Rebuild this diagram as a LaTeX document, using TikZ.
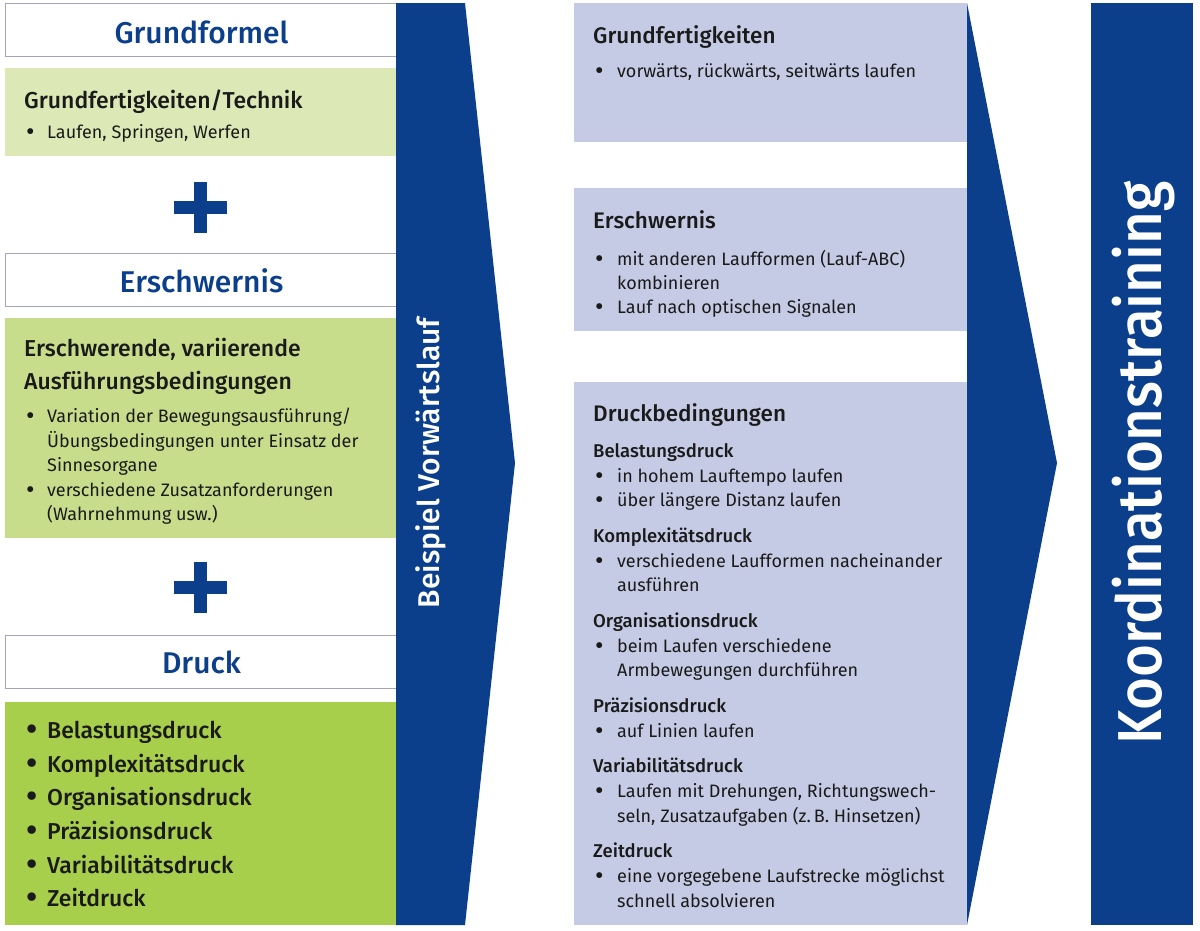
\documentclass[tikz,border=0pt]{standalone}
\usepackage{fontspec}
\setmainfont{Fira Sans}[BoldFont={* Medium}]
\definecolor{dblue}{HTML}{0B3F8C}
\definecolor{lblue}{HTML}{C5CBE5}
\definecolor{gA}{HTML}{DCE9B6}
\definecolor{gB}{HTML}{C8DD8B}
\definecolor{gC}{HTML}{A8CF4B}
\definecolor{hborder}{HTML}{A3A5BF}
\definecolor{txt}{HTML}{1A1A1A}
\newcommand\bdot{\raisebox{-0.12em}{\scalebox{1.45}{•}}}
\newcommand\bulL{\makebox[21pt][l]{\bdot}}
\newcommand\bulR{\makebox[22pt][l]{\bdot}}
\begin{document}
\begin{tikzpicture}[x=1pt,y=-1pt,
  hbox/.style={draw=hborder,line width=1pt,fill=white},
  htitle/.style={anchor=base,text=dblue,inner sep=0pt,font=\fontsize{30}{32}\selectfont\bfseries},
  gtitle/.style={anchor=base west,text=txt,inner sep=0pt,font=\fontsize{23}{26}\selectfont\bfseries},
  btxt/.style={anchor=base west,text=txt,inner sep=0pt,font=\fontsize{18}{20}\selectfont},
  dtxt/.style={anchor=base west,text=txt,inner sep=0pt,font=\fontsize{23}{26}\selectfont\bfseries},
  rtitle/.style={anchor=base west,text=txt,inner sep=0pt,font=\fontsize{22.5}{24}\selectfont\bfseries},
  rsub/.style={anchor=base west,text=txt,inner sep=0pt,font=\fontsize{18.5}{20}\selectfont\bfseries},
  plusbar/.style={fill=dblue}]
\useasboundingbox[fill=white] (0,0) rectangle (1200,930);

% ---------- left column ----------
\draw[hbox] (5,3) rectangle (396,56);
\node[htitle] (t1) at (201.5,43) {Grundformel};
\fill[gA] (5,68) rectangle (396,156);
\node[gtitle] (g1) at (24,108) {Grundfertigkeiten/Technik};
\node[btxt] (g1a) at (26,138) {\bulL Laufen, Springen, Werfen};

\fill[plusbar] (174,201) rectangle (227,214);
\fill[plusbar] (194,182) rectangle (207,233);

\draw[hbox] (5,253) rectangle (396,306);
\node[htitle] (t2) at (201.5,292) {Erschwernis};
\fill[gB] (5,318) rectangle (396,538);
\node[gtitle] (g2) at (24,356) {Erschwerende, variierende};
\node[gtitle] (g2b) at (24,389) {Ausführungsbedingungen};
\node[btxt] (g2c) at (26,422) {\bulL Variation der Bewegungsausführung/};
\node[btxt] (g2d) at (47,447) {Übungsbedingungen unter Einsatz der};
\node[btxt] (g2e) at (47,471) {Sinnesorgane};
\node[btxt] (g2f) at (26,496) {\bulL verschiedene Zusatzanforderungen};
\node[btxt] (g2g) at (47,520) {(Wahrnehmung usw.)};

\fill[plusbar] (174,581) rectangle (227,594);
\fill[plusbar] (194,562) rectangle (207,613);

\draw[hbox] (5,635) rectangle (396,688);
\node[htitle] (t3) at (201.5,673) {Druck};
\fill[gC] (5,702) rectangle (396,925);
\node[dtxt] (d1) at (26,738) {\makebox[21pt][l]{\bdot}Belastungsdruck};
\node[dtxt] (d2) at (26,772) {\makebox[21pt][l]{\bdot}Komplexitätsdruck};
\node[dtxt] (d3) at (26,805) {\makebox[21pt][l]{\bdot}Organisationsdruck};
\node[dtxt] (d4) at (26,839) {\makebox[21pt][l]{\bdot}Präzisionsdruck};
\node[dtxt] (d5) at (26,873) {\makebox[21pt][l]{\bdot}Variabilitätsdruck};
\node[dtxt] (d6) at (26,906) {\makebox[21pt][l]{\bdot}Zeitdruck};

% ---------- first arrow ----------
\fill[dblue] (396,3) -- (465,3) -- (515,463) -- (465,925) -- (396,925) -- cycle;
\node[rotate=90,text=white,inner sep=0pt,font=\fontsize{30}{32}\selectfont\bfseries] (bsp) at (431,463) {Beispiel Vorwärtslauf};

% ---------- middle column ----------
\fill[lblue] (574,3) rectangle (967,142);
\node[rtitle] (m1) at (593,43) {Grundfertigkeiten};
\node[btxt] (m1a) at (595,77) {\bulR vorwärts, rückwärts, seitwärts laufen};

\fill[lblue] (574,188) rectangle (967,331);
\node[rtitle] (m2) at (593,228) {Erschwernis};
\node[btxt] (m2a) at (595,265) {\bulR mit anderen Laufformen (Lauf-ABC)};
\node[btxt] (m2b) at (617,289) {kombinieren};
\node[btxt] (m2c) at (595,313) {\bulR Lauf nach optischen Signalen};

\fill[lblue] (574,382) rectangle (967,925);
\node[rtitle] (m3) at (593,421) {Druckbedingungen};
\node[rsub] (s1) at (593,457) {Belastungsdruck};
\node[btxt] (s1a) at (595,482) {\bulR in hohem Lauftempo laufen};
\node[btxt] (s1b) at (595,506) {\bulR über längere Distanz laufen};
\node[rsub] (s2) at (593,542) {Komplexitätsdruck};
\node[btxt] (s2a) at (595,567) {\bulR verschiedene Laufformen nacheinander};
\node[btxt] (s2b) at (617,591) {ausführen};
\node[rsub] (s3) at (593,627) {Organisationsdruck};
\node[btxt] (s3a) at (595,652) {\bulR beim Laufen verschiedene};
\node[btxt] (s3b) at (617,676) {Armbewegungen durchführen};
\node[rsub] (s4) at (593,712) {Präzisionsdruck};
\node[btxt] (s4a) at (595,737) {\bulR auf Linien laufen};
\node[rsub] (s5) at (593,772) {Variabilitätsdruck};
\node[btxt] (s5a) at (595,797) {\bulR Laufen mit Drehungen, Richtungswech-};
\node[btxt] (s5b) at (617,822) {seln, Zusatzaufgaben (z.\,B. Hinsetzen)};
\node[rsub] (s6) at (593,857) {Zeitdruck};
\node[btxt] (s6a) at (595,882) {\bulR eine vorgegebene Laufstrecke möglichst};
\node[btxt] (s6b) at (617,907) {schnell absolvieren};

% ---------- second arrow ----------
\fill[dblue] (967,3) -- (1057,463) -- (967,925) -- cycle;

% ---------- right bar ----------
\fill[dblue] (1091,3) rectangle (1193,925);
\node[rotate=90,text=white,inner sep=0pt,font=\fontsize{62}{64}\selectfont\bfseries] (kt) at (1144,463) {\scalebox{0.91}[1]{Koordinationstraining}};
\end{tikzpicture}
\end{document}
